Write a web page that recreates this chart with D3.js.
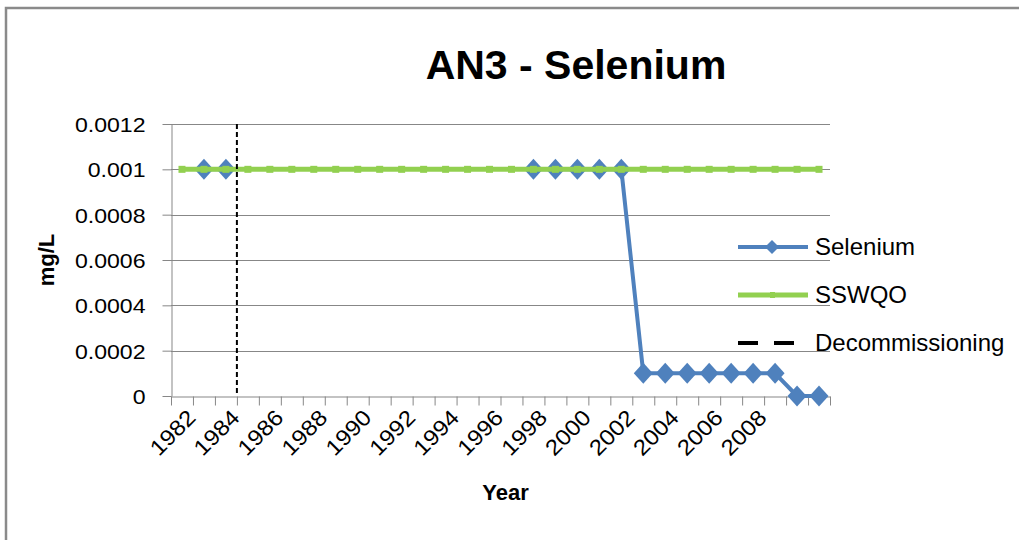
<!DOCTYPE html>
<html>
<head>
<meta charset="utf-8">
<script src="https://cdn.jsdelivr.net/npm/d3@7/dist/d3.min.js"></script>
<style>
  html, body { margin: 0; padding: 0; background: #fff; overflow: hidden; }
  text { font-family: "Liberation Sans", Arial, sans-serif; fill: #000; }
</style>
</head>
<body>
<svg id="chart" width="1019" height="540"></svg>
<script>
// Sampling years (the last two samples carry no year label on the axis)
const categories = ["1982", "1983", "1984", "1985", "1986", "1987", "1988", "1989", "1990", "1991",
                    "1992", "1993", "1994", "1995", "1996", "1997", "1998", "1999", "2000", "2001",
                    "2002", "2003", "2004", "2005", "2006", "2007", "2008", "2009", "", ""];

// Selenium concentration, mg/L (null = not sampled)
const selenium = [null, 0.001, 0.001, null, null, null, null, null, null, null,
                  null, null, null, null, null, null, 0.001, 0.001, 0.001, 0.001,
                  0.001, 0.0001, 0.0001, 0.0001, 0.0001, 0.0001, 0.0001, 0.0001, 0, 0];

// Site-specific water quality objective, mg/L
const sswqo = [0.001, 0.001, 0.001, 0.001, 0.001, 0.001, 0.001, 0.001, 0.001, 0.001,
               0.001, 0.001, 0.001, 0.001, 0.001, 0.001, 0.001, 0.001, 0.001, 0.001,
               0.001, 0.001, 0.001, 0.001, 0.001, 0.001, 0.001, 0.001, 0.001, 0.001];

// Decommissioning took place between these two sampling years
const decommissioningBetween = ["1984", "1985"];

const yTickValues = [0, 0.0002, 0.0004, 0.0006, 0.0008, 0.001, 0.0012];
const yTickLabels = ["0", "0.0002", "0.0004", "0.0006", "0.0008", "0.001", "0.0012"];

const seriesNames = ["Selenium", "SSWQO", "Decommissioning"];

const W = 1019, H = 540;
const plot = { left: 171, right: 830, top: 124, bottom: 396 };
const BLUE = "#4F81BD", GREEN = "#92D050", GRID = "#878787";

const svg = d3.select("#chart");

// Chart frame (only top and left edges fall inside the canvas)
svg.append("rect")
  .attr("x", 6).attr("y", 8)
  .attr("width", W + 40).attr("height", H + 40)
  .attr("fill", "#fff").attr("stroke", "#8a8a8a").attr("stroke-width", 2.5);

const idx = d3.range(categories.length);
const x = d3.scaleBand().domain(idx).range([plot.left, plot.right]).padding(0);
const xEdge = d3.scaleLinear().domain([0, categories.length]).range([plot.left, plot.right]);
const cx = i => x(i) + x.bandwidth() / 2;
const y = d3.scaleLinear().domain([0, 0.0012]).range([plot.bottom, plot.top]);

// Horizontal gridlines
svg.append("g")
  .selectAll("line")
  .data(yTickValues.filter(v => v > 0))
  .join("line")
  .attr("x1", plot.left).attr("x2", plot.right)
  .attr("y1", d => Math.round(y(d)) + 0.5).attr("y2", d => Math.round(y(d)) + 0.5)
  .attr("stroke", GRID).attr("stroke-width", 1);

// Y axis
const yAxis = svg.append("g")
  .attr("transform", `translate(${plot.left + 0.5},0)`)
  .call(d3.axisLeft(y)
    .tickValues(yTickValues)
    .tickFormat((d, i) => yTickLabels[i])
    .tickSize(9).tickSizeOuter(0).tickPadding(17));
yAxis.select(".domain").attr("stroke", GRID);
yAxis.selectAll(".tick line").attr("stroke", GRID);
const ySx = 1.1;
yAxis.selectAll(".tick text")
  .attr("font-size", 21)
  .attr("font-family", "Liberation Sans, Arial, sans-serif")
  .attr("x", -26 / ySx)
  .attr("dy", "0.36em")
  .attr("transform", `scale(${ySx},1)`);

// X axis: tick marks sit on category boundaries
const xAxis = svg.append("g")
  .attr("transform", `translate(0,${plot.bottom + 0.5})`)
  .call(d3.axisBottom(xEdge)
    .tickValues(d3.range(categories.length + 1))
    .tickFormat("")
    .tickSize(9).tickSizeOuter(0));
xAxis.select(".domain").attr("stroke", GRID);
xAxis.selectAll(".tick line").attr("stroke", GRID);

// X labels, every second category, rotated
const xLab = svg.append("g")
  .attr("transform", `translate(0,${plot.bottom})`)
  .call(d3.axisBottom(x)
    .tickValues(idx.filter(i => i % 2 === 0))
    .tickFormat(i => categories[i])
    .tickSize(0).tickSizeOuter(0));
xLab.select(".domain").remove();
xLab.selectAll(".tick text")
  .attr("font-size", 22)
  .attr("font-family", "Liberation Sans, Arial, sans-serif")
  .attr("text-anchor", "end")
  .attr("x", 0).attr("y", 0).attr("dy", 0)
  .attr("transform", "translate(15,23) rotate(-45) scale(1.1,1)");

// Selenium series
const line = d3.line()
  .defined(d => d.v != null)
  .x(d => cx(d.i))
  .y(d => y(d.v));

const selData = selenium.map((v, i) => ({ i, v }));
svg.append("path")
  .datum(selData)
  .attr("d", line)
  .attr("fill", "none").attr("stroke", BLUE)
  .attr("stroke-width", 4).attr("stroke-linejoin", "round");

const diamond = (hw, hh) => `M0,${-hh}L${hw},0L0,${hh}L${-hw},0Z`;
svg.append("g")
  .selectAll("path")
  .data(selData.filter(d => d.v != null))
  .join("path")
  .attr("d", diamond(9.5, 10.5))
  .attr("transform", d => `translate(${cx(d.i)},${y(d.v)})`)
  .attr("fill", BLUE);

// SSWQO series
const swData = sswqo.map((v, i) => ({ i, v }));
svg.append("path")
  .datum(swData)
  .attr("d", line)
  .attr("fill", "none").attr("stroke", GREEN)
  .attr("stroke-width", 5);
svg.append("g")
  .selectAll("rect")
  .data(swData)
  .join("rect")
  .attr("x", d => cx(d.i) - 3.5).attr("y", d => y(d.v) - 3.5)
  .attr("width", 7).attr("height", 7)
  .attr("fill", GREEN);

// Decommissioning marker
const decoX = x(categories.indexOf(decommissioningBetween[1]));
svg.append("line")
  .attr("x1", decoX).attr("x2", decoX)
  .attr("y1", plot.top).attr("y2", plot.bottom)
  .attr("stroke", "#000").attr("stroke-width", 2)
  .attr("stroke-dasharray", "5,3");

// Title
svg.append("text")
  .attr("x", 576).attr("y", 79)
  .attr("text-anchor", "middle")
  .attr("font-size", 41).attr("font-weight", "bold")
  .text("AN3 - Selenium");

// Axis titles
svg.append("text")
  .attr("transform", `translate(54,${(plot.top + plot.bottom) / 2}) rotate(-90)`)
  .attr("text-anchor", "middle")
  .attr("font-size", 22).attr("font-weight", "bold")
  .text("mg/L");

svg.append("text")
  .attr("x", (plot.left + plot.right) / 2 + 5).attr("y", 500)
  .attr("text-anchor", "middle")
  .attr("font-size", 22).attr("font-weight", "bold")
  .text("Year");

// Legend
const legend = svg.append("g").attr("transform", "translate(738,247)");
const rowGap = 48;
const rows = legend.selectAll("g").data(seriesNames).join("g")
  .attr("transform", (d, i) => `translate(0,${i * rowGap})`);

rows.filter((d, i) => i === 0).call(g => {
  g.append("line").attr("x1", 0).attr("x2", 70).attr("stroke", BLUE).attr("stroke-width", 4);
  g.append("path").attr("d", diamond(7, 7)).attr("transform", "translate(34,0)").attr("fill", BLUE);
});
rows.filter((d, i) => i === 1).call(g => {
  g.append("line").attr("x1", 0).attr("x2", 70).attr("stroke", GREEN).attr("stroke-width", 5);
  g.append("rect").attr("x", 32).attr("y", -3).attr("width", 5).attr("height", 6).attr("fill", GREEN);
});
rows.filter((d, i) => i === 2).call(g => {
  g.append("line").attr("x1", 0).attr("x2", 56).attr("stroke", "#000").attr("stroke-width", 4)
    .attr("stroke-dasharray", "20,16");
});
rows.append("text")
  .attr("x", 77).attr("y", 8)
  .attr("font-size", 24)
  .text(d => d);
</script>
</body>
</html>
